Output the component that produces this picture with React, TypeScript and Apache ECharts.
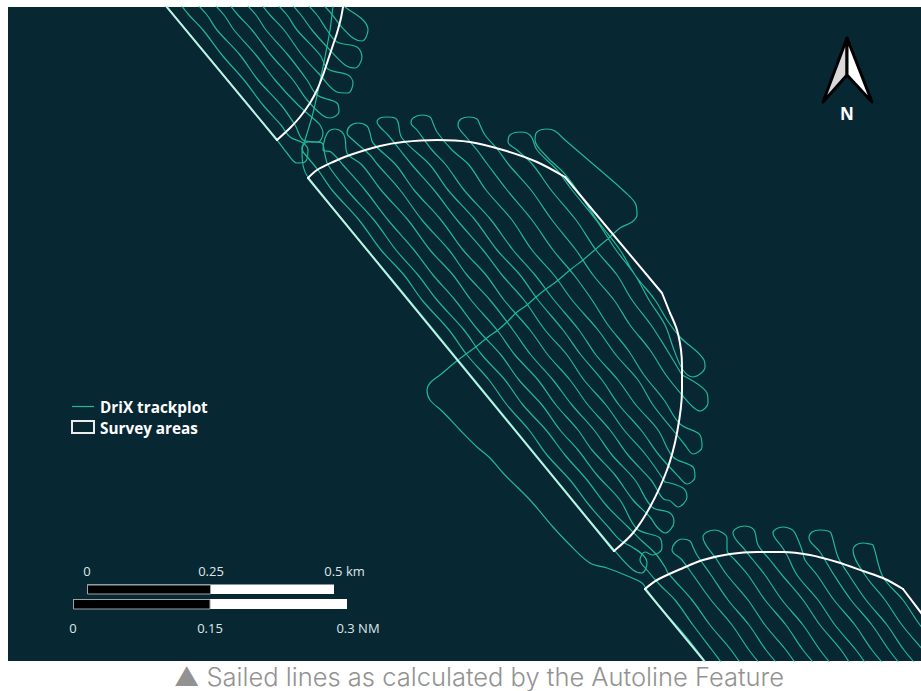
import React, { useEffect, useRef } from "react";
import * as echarts from "echarts";

type P = [number, number];

const PANEL = "#072733";
const TRACK = "#20b79a";

// Survey area outlines
const upperArc: P[] = [[277,140],[290,128],[300,117],[310,103],[317,90],[323,75],[328,60],[333,45],[337,33],[341,18],[343,7],[344,0]];
const upperEdge: P[] = [[161,0],[277,140]];
const middleArc: P[] = [[308,178],[317,170],[333,162],[350,155],[380,146],[403,142],[437,140],[470,142],[503,150],[537,162],[565,177]];
const middleStraight: P[] = [[565,177],[662,293],[670,313]];
const middleCurve: P[] = [[670,313],[677,330],[681,350],[682,367],[682,390],[677,433],[667,470],[650,507],[633,533],[614,551]];
const middleEdge: P[] = [[308,178],[614,551]];
const lowerArc: P[] = [[645,589],[657,580],[683,568],[703,560],[730,554],[757,552],[783,552],[810,555],[837,562],[863,571],[885,579],[903,589]];
const lowerStraight: P[] = [[903,589],[925,618]];
const lowerEdge: P[] = [[645,589],[710,668]];

// Upper block, sailed lines
const upperA: P[] = [[161,0],[167,7],[220,71],[277,140],[287,153],[297,163],[305,162],[308,150],[303,143],[290,137],[281,125],[263,105],[244,80],[222,55],[203,30],[189,15],[177,0]];
const upperB: P[] = [[193,0],[207,15],[217,30],[240,55],[258,80],[281,105],[295,125],[303,140],[315,142],[322,143],[325,155],[328,165],[347,190],[374,220],[396,250],[418,275],[437,300],[464,330],[482,355],[505,380],[523,405],[546,430],[565,455],[587,480],[606,505],[628,527],[642,541],[655,553],[665,567],[668,573],[692,600],[710,625],[731,650],[745,670]];
const upperC: P[] = [[210,0],[224,15],[234,30],[256,55],[275,80],[298,105],[315,120],[320,125],[323,133],[318,142],[308,142],[302,147],[303,152]];
const upperD: P[] = [[226,0],[238,15],[252,30],[271,55],[293,80],[307,100],[322,115],[330,118],[339,112],[337,103],[317,95],[307,80],[288,55],[266,30],[256,15],[242,0]];
const upperE: P[] = [[258,0],[270,15],[284,30],[302,55],[320,75],[337,92],[348,93],[353,83],[348,75],[328,69],[320,55],[297,30],[287,15],[273,0]];
const upperF: P[] = [[288,0],[301,15],[312,30],[328,48],[345,65],[355,68],[362,57],[357,47],[337,42],[327,30],[317,15],[303,0]];
const upperG: P[] = [[318,0],[330,12],[340,25],[353,38],[362,41],[368,30],[363,20],[345,7],[338,0]];
const upperTransit: P[] = [[335,0],[333,7],[330,30],[323,67],[313,113],[305,140],[302,150],[303,165],[308,177],[400,289],[500,411],[615,551],[633,570],[642,573],[647,563],[643,555],[632,547],[620,540],[610,529],[589,505],[570,480],[547,455],[529,430],[507,405],[489,380],[467,355],[449,330],[422,300],[404,275],[381,250],[359,220],[332,190],[318,170],[303,152]];

// Middle block, one continuous run from the lower block to the transit
const middleRunA: P[] = [[727,670],[712,650],[693,625],[675,600],[660,585],[647,570],[640,560],[645,552],[653,555],[662,548],[660,538],[637,529],[620,500],[597,475],[578,450],[560,430],[542,405],[519,380],[501,355],[478,330],[455,300],[433,275],[414,250],[388,220],[365,190],[343,165],[331,152],[323,150],[325,138],[329,131],[335,129],[342,132],[345,138],[347,153],[362,165],[381,190],[408,220],[430,250],[453,275],[471,300],[497,330],[515,355],[538,380],[556,405],[578,430],[592,450],[615,475],[633,500],[650,517],[657,527],[665,533],[674,522],[670,513],[652,507],[635,480],[612,455],[594,430],[572,405],[553,380],[531,355],[513,330],[490,300],[467,275],[449,250],[422,220],[400,190],[378,165],[370,155],[353,140],[347,133],[350,126],[358,123],[367,126],[370,133],[373,143],[396,165],[414,190],[441,220],[463,250],[486,275],[504,300],[530,330],[548,355],[570,380],[588,405],[610,430],[628,455],[651,480],[666,500],[668,500],[678,507],[687,497],[683,488],[665,482]];
const middleRunB: P[] = [[665,482],[646,455],[624,430],[606,405],[584,380],[567,355],[545,330],[524,300],[502,275],[483,250],[457,220],[434,190],[412,165],[400,150],[388,135],[380,127],[377,122],[380,118],[387,117],[395,118],[398,122],[402,138],[430,165],[448,190],[475,220],[497,250],[520,275],[538,300],[563,330],[581,355],[602,380],[619,405],[641,430],[659,455],[679,477],[687,484],[695,477],[693,467],[673,457],[658,430],[636,405],[618,380],[596,355],[579,330],[554,300],[535,275],[513,250],[491,220],[464,190],[446,165],[432,150],[417,130],[411,123],[413,118],[422,115],[430,117],[433,123],[437,132],[452,150],[469,165],[486,190],[512,220],[532,250],[554,275],[572,300],[598,330],[616,355],[638,380],[653,405],[673,430],[685,445],[693,454],[702,447],[700,435],[680,424],[664,400],[644,375],[628,350],[608,325],[592,300],[574,275],[553,250],[532,220],[507,190],[488,165],[477,150],[467,138],[458,125],[461,119],[469,117],[477,119],[480,125],[485,135],[498,150],[509,165],[531,190],[552,220],[576,250],[593,275],[614,300],[630,325],[650,350],[666,375],[682,395],[693,407],[700,411],[708,403],[707,393],[682,375]];
const middleRunC: P[] = [[682,375],[667,350],[651,325],[632,300],[617,275],[596,250],[576,220],[551,190],[533,165],[517,150],[508,142],[510,135],[520,132],[527,133],[532,138],[537,150],[557,170],[572,190],[596,220],[616,250],[635,275],[649,300],[665,325],[674,350],[683,370],[693,377],[705,367],[704,360],[680,337],[667,320],[655,300],[635,275],[620,250],[597,220],[577,190],[563,172],[547,157],[535,140],[537,132],[547,129],[555,131],[565,140],[600,170],[625,192],[636,205],[637,215],[632,222],[620,228],[610,237],[597,248],[583,260],[570,270],[557,281],[546,289],[536,297],[527,305],[517,312],[507,322],[498,330],[488,337],[477,346],[458,360],[440,375],[430,383],[427,390],[430,400],[443,412],[460,430],[477,447],[490,458],[503,473],[530,500],[553,527],[570,545],[590,563],[607,568],[625,575],[642,583],[647,590],[660,607],[687,638],[710,668]];

// Lower block, sailed lines
const lowerA: P[] = [[765,670],[749,650],[732,625],[711,600],[693,575],[682,560],[672,550],[675,543],[682,539],[690,541],[693,547],[697,555],[711,575],[728,600],[749,625],[766,650],[783,670]];
const lowerB: P[] = [[800,670],[786,650],[765,625],[748,600],[727,575],[717,560],[703,537],[707,532],[715,530],[723,533],[727,538],[727,550],[735,560],[748,575],[765,600],[786,625],[803,650],[820,670]];
const lowerC: P[] = [[836,670],[820,650],[803,625],[782,600],[765,575],[753,560],[745,550],[733,533],[737,528],[745,526],[752,528],[755,532],[758,545],[770,560],[782,575],[803,600],[820,625],[841,650],[854,670]];
const lowerD: P[] = [[870,670],[856,650],[835,625],[818,600],[797,575],[787,555],[782,547],[773,533],[776,529],[783,527],[791,529],[795,533],[802,550],[805,560],[817,575],[834,600],[855,625],[872,650],[889,670]];
const lowerE: P[] = [[905,670],[889,650],[872,625],[851,600],[834,575],[820,552],[809,538],[812,532],[820,530],[828,531],[831,533],[838,557],[849,575],[866,600],[887,625],[904,650],[921,670]];
const lowerF: P[] = [[940,670],[923,650],[902,625],[885,600],[865,575],[853,550],[856,545],[863,543],[870,544],[873,545],[883,577],[903,600],[920,625],[941,650]];

const trackLines: P[][] = [upperA, upperB, upperC, upperD, upperE, upperF, upperG, upperTransit, middleRunA, middleRunB, middleRunC, lowerA, lowerB, lowerC, lowerD, lowerE, lowerF];
const smoothOutlines: P[][] = [upperArc, middleArc, middleCurve, lowerArc];
const straightOutlines: P[][] = [middleStraight, lowerStraight];
const mintOutlines: P[][] = [upperEdge, middleEdge, lowerEdge];

const kmLabels = ["0", "0.25", "0.5 km"];
const nmLabels = ["0", "0.15", "0.3 NM"];
const legendLabels = ["DriX trackplot", "Survey areas"];
const caption = "▲ Sailed lines as calculated by the Autoline Feature";

const lineSeries = (data: P[], color: string, width: number, z: number, smooth: number) => ({
  type: "line",
  data,
  showSymbol: false,
  symbol: "none",
  smooth,
  silent: true,
  z,
  lineStyle: { color, width, cap: "round", join: "round" },
});

const scaleText = (text: string, x: number, y: number) => ({
  type: "text",
  x,
  y,
  style: { text, fill: "#dfe6e8", font: "13px 'Open Sans'", textAlign: "center", textVerticalAlign: "middle" },
});

export default function App() {
  const ref = useRef<HTMLDivElement>(null);
  useEffect(() => {
    const chart = echarts.init(ref.current!, undefined, { renderer: "svg" });
    chart.setOption({
      animation: false,
      backgroundColor: "#ffffff",
      grid: { left: 8, top: 7, right: 0, bottom: 30, show: true, backgroundColor: PANEL, borderWidth: 0 },
      xAxis: { type: "value", min: 8, max: 921, show: false },
      yAxis: { type: "value", min: 7, max: 661, inverse: true, show: false },
      series: [
        ...trackLines.map((d) => lineSeries(d, TRACK, 1.2, 2, 0.35)),
        ...mintOutlines.map((d) => lineSeries(d, "#bdf2e4", 2, 3, 0)),
        ...smoothOutlines.map((d) => lineSeries(d, "#ffffff", 2, 4, 0.3)),
        ...straightOutlines.map((d) => lineSeries(d, "#ffffff", 2, 4, 0)),
      ],
      graphic: [
        { type: "line", shape: { x1: 72, y1: 406.5, x2: 94, y2: 406.5 }, style: { stroke: TRACK, lineWidth: 1.2 } },
        { type: "rect", shape: { x: 72, y: 421, width: 22, height: 12 }, style: { fill: "transparent", stroke: "#e8eeee", lineWidth: 2 } },
        { type: "text", x: 100, y: 407, style: { text: legendLabels[0], fill: "#ffffff", font: "bold 15.3px 'Open Sans'", textVerticalAlign: "middle" } },
        { type: "text", x: 100, y: 427.5, style: { text: legendLabels[1], fill: "#ffffff", font: "bold 15.3px 'Open Sans'", textVerticalAlign: "middle" } },

        { type: "rect", shape: { x: 87, y: 584.5, width: 247, height: 9.5 }, style: { fill: "#ffffff" } },
        { type: "rect", shape: { x: 87.5, y: 585, width: 123, height: 9 }, style: { fill: "#000000", stroke: "#9aa5a8", lineWidth: 1 } },
        { type: "rect", shape: { x: 73, y: 599, width: 274, height: 10 }, style: { fill: "#ffffff" } },
        { type: "rect", shape: { x: 73.5, y: 599.5, width: 136.5, height: 9.5 }, style: { fill: "#000000", stroke: "#9aa5a8", lineWidth: 1 } },
        scaleText(kmLabels[0], 87, 571),
        scaleText(kmLabels[1], 211, 571),
        scaleText(kmLabels[2], 344.5, 571),
        scaleText(nmLabels[0], 73, 628),
        scaleText(nmLabels[1], 210, 628),
        scaleText(nmLabels[2], 358, 628),

        { type: "polygon", shape: { points: [[847,38],[823,102],[847,75]] }, style: { fill: "#d9d9d9", stroke: "#000000", lineWidth: 3, lineJoin: "round" } },
        { type: "polygon", shape: { points: [[847,38],[872,102],[847,75]] }, style: { fill: "#ffffff", stroke: "#000000", lineWidth: 3, lineJoin: "round" } },
        { type: "text", x: 847, y: 113, style: { text: "N", fill: "#ffffff", font: "bold 17px 'Open Sans'", textAlign: "center", textVerticalAlign: "middle" } },

        { type: "text", x: 479, y: 676, style: { text: caption, fill: "#929292", font: "300 25.5px Inter", textAlign: "center", textVerticalAlign: "middle" } },
      ],
    });
    return () => chart.dispose();
  }, []);
  return <div ref={ref} style={{ position: "absolute", left: 0, top: 0, width: 921, height: 691 }} />;
}
